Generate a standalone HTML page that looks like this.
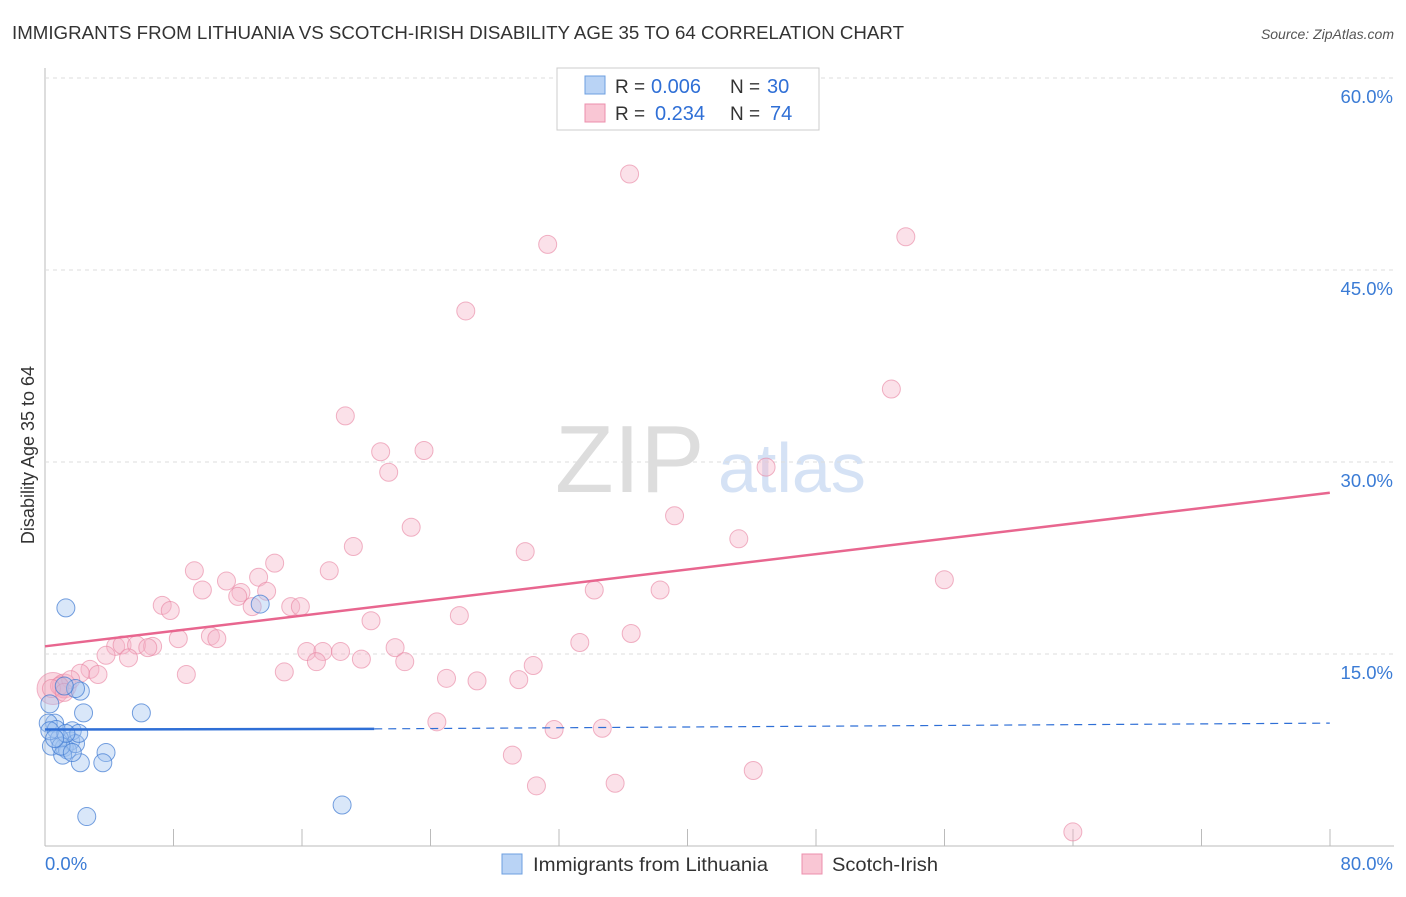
<!DOCTYPE html>
<html><head><meta charset="utf-8">
<style>
body{margin:0;background:#fff;font-family:"Liberation Sans",sans-serif;}
svg text{font-family:"Liberation Sans",sans-serif;}
</style></head>
<body>
<svg id="chart" width="1406" height="892" xmlns="http://www.w3.org/2000/svg">
<text x="12" y="39" font-size="18" fill="#333" textLength="892" lengthAdjust="spacingAndGlyphs">IMMIGRANTS FROM LITHUANIA VS SCOTCH-IRISH DISABILITY AGE 35 TO 64 CORRELATION CHART</text>
<text x="1394" y="39" font-size="14" fill="#555" text-anchor="end" font-style="italic">Source: ZipAtlas.com</text>
<text x="34" y="455" font-size="18" fill="#333" text-anchor="middle" transform="rotate(-90 34 455)">Disability Age 35 to 64</text>
<text x="555" y="492" font-size="96" fill="#ddd" font-family="Liberation Serif">ZIP</text>
<text x="718" y="492" font-size="70" fill="#d5e2f5">atlas</text>
<g id="grid"></g><g id="marks"></g>
<g>
<rect x="557" y="68" width="262" height="62" fill="#fff" stroke="#ccc"/>
<rect x="585" y="76" width="20" height="18" fill="#b9d3f5" stroke="#6d9fe0"/>
<rect x="585" y="104" width="20" height="18" fill="#f9c6d4" stroke="#ec8fac"/>
<text x="615" y="93" font-size="19" fill="#333">R =</text>
<text x="651" y="93" font-size="20" fill="#2f6fd6">0.006</text>
<text x="730" y="93" font-size="19" fill="#333">N =</text>
<text x="767" y="93" font-size="20" fill="#2f6fd6">30</text>
<text x="615" y="120" font-size="19" fill="#333">R =</text>
<text x="655" y="120" font-size="20" fill="#2f6fd6">0.234</text>
<text x="730" y="120" font-size="19" fill="#333">N =</text>
<text x="770" y="120" font-size="20" fill="#2f6fd6">74</text>
</g>
<g>
<rect x="502" y="854" width="20" height="20" fill="#b9d3f5" stroke="#6d9fe0"/>
<text x="533" y="871" font-size="19.5" fill="#333" textLength="235" lengthAdjust="spacingAndGlyphs">Immigrants from Lithuania</text>
<rect x="802" y="854" width="20" height="20" fill="#f9c6d4" stroke="#ec8fac"/>
<text x="832" y="871" font-size="19.5" fill="#333" textLength="106" lengthAdjust="spacingAndGlyphs">Scotch-Irish</text>
</g>
</svg>
<script>
const yTicks=[15,30,45,60];
const xTickLabels=["0.0%","80.0%"];
const blueX=[1.3,13.4,2.4,6.0,2.2,1.9,1.2,0.3,0.6,0.2,0.7,0.4,1.6,1.2,1.7,0.9,1.4,1.1,1.9,1.0,2.1,3.8,3.6,2.2,2.6,18.5,0.3,1.3,1.7,0.6];
const blueY=[18.6,18.9,10.4,10.4,12.1,12.3,12.5,11.1,9.6,9.6,9.1,7.8,8.2,7.7,9.0,8.4,7.5,7.1,8.0,7.8,8.8,7.3,6.5,6.5,2.3,3.2,9.0,8.8,7.3,8.4];
const pinkX=[36.4,31.3,53.6,26.2,52.7,18.7,20.9,23.6,21.4,44.9,39.2,22.8,43.2,29.9,19.2,9.3,14.3,17.7,13.3,11.3,9.8,56.0,38.3,34.2,12.2,13.8,12.0,7.3,7.8,15.3,12.9,15.9,25.8,20.3,8.3,10.3,10.7,36.5,33.3,4.4,4.8,5.7,6.7,6.4,3.8,5.2,16.3,17.3,18.4,16.9,19.7,21.8,22.4,30.4,2.8,2.2,3.3,8.8,14.9,29.5,25.0,26.9,1.6,0.9,0.4,1.2,24.4,31.7,34.7,29.1,44.1,35.5,30.6,64.0];
const pinkY=[52.5,47.0,47.6,41.8,35.7,33.6,30.8,30.9,29.2,29.6,25.8,24.9,24.0,23.0,23.4,21.5,22.1,21.5,21.0,20.7,20.0,20.8,20.0,20.0,19.8,19.9,19.5,18.8,18.4,18.7,18.7,18.7,18.0,17.6,16.2,16.4,16.2,16.6,15.9,15.6,15.7,15.7,15.6,15.5,14.9,14.7,15.2,15.2,15.2,14.4,14.6,15.5,14.4,14.1,13.8,13.5,13.4,13.4,13.6,13.0,13.1,12.9,13.0,12.5,12.3,12.0,9.7,9.1,9.2,7.1,5.9,4.9,4.7,1.1];
const X=v=>45+v*16.06, Y=v=>846-v*12.8;
const NS="http://www.w3.org/2000/svg";
const grid=document.getElementById('grid'), marks=document.getElementById('marks');
function mk(t,a,p){const e=document.createElementNS(NS,t);for(const k in a)e.setAttribute(k,a[k]);p.appendChild(e);return e;}
const yax=mk('line',{x1:45,y1:68,x2:45,y2:846,stroke:'#bbb'},grid);


const xax=mk('line',{x1:45,y1:846,x2:1394,y2:846,stroke:'#bbb'},grid);


yTicks.forEach(t=>{
 const g=mk('line',{x1:45,y1:Y(t),x2:1394,y2:Y(t),stroke:'#ddd','stroke-dasharray':'4,4'},grid);
 
 
 const l=mk('text',{x:1393,y:Y(t)+25,'font-size':18.5,fill:'#3a7bd5','text-anchor':'end'},grid);
 l.textContent=t.toFixed(1)+'%';
 
 
});
for(let i=1;i<=10;i++){const tk=mk('line',{x1:45+i*128.5,y1:829,x2:45+i*128.5,y2:846,stroke:'#bbb'},grid);
 
 }
const xl0=mk('text',{x:45,y:870,'font-size':18.5,fill:'#3a7bd5'},grid);xl0.textContent=xTickLabels[0];


const xl1=mk('text',{x:1393,y:870,'font-size':18.5,fill:'#3a7bd5','text-anchor':'end'},grid);xl1.textContent=xTickLabels[1];


[[0.5,12.3,16],[1.2,12.5,12]].forEach(b=>{const c=mk('circle',{cx:X(b[0]),cy:Y(b[1]),r:b[2],fill:'rgba(240,140,170,0.35)',stroke:'rgba(230,120,155,0.5)'},marks);
 
 });
pinkX.forEach((x,i)=>{const c=mk('circle',{cx:X(x),cy:Y(pinkY[i]),r:9,fill:'rgba(246,180,200,0.4)',stroke:'rgba(232,130,160,0.6)'},marks);
 
 });
blueX.forEach((x,i)=>{const c=mk('circle',{cx:X(x),cy:Y(blueY[i]),r:9,fill:'rgba(160,195,240,0.4)',stroke:'rgba(60,120,210,0.7)'},marks);
 
 });
const pl=mk('line',{x1:X(0),y1:Y(15.6),x2:X(80),y2:Y(27.6),stroke:'#e8668f','stroke-width':2.5},marks);


const bl=mk('line',{x1:X(0),y1:Y(9.1),x2:X(20.5),y2:Y(9.15),stroke:'#2f6fd6','stroke-width':2.5},marks);


const bd=mk('line',{x1:X(20.5),y1:Y(9.15),x2:X(80),y2:Y(9.6),stroke:'#2f6fd6','stroke-width':1.2,'stroke-dasharray':'8,6'},marks);


</script>
</body></html>
